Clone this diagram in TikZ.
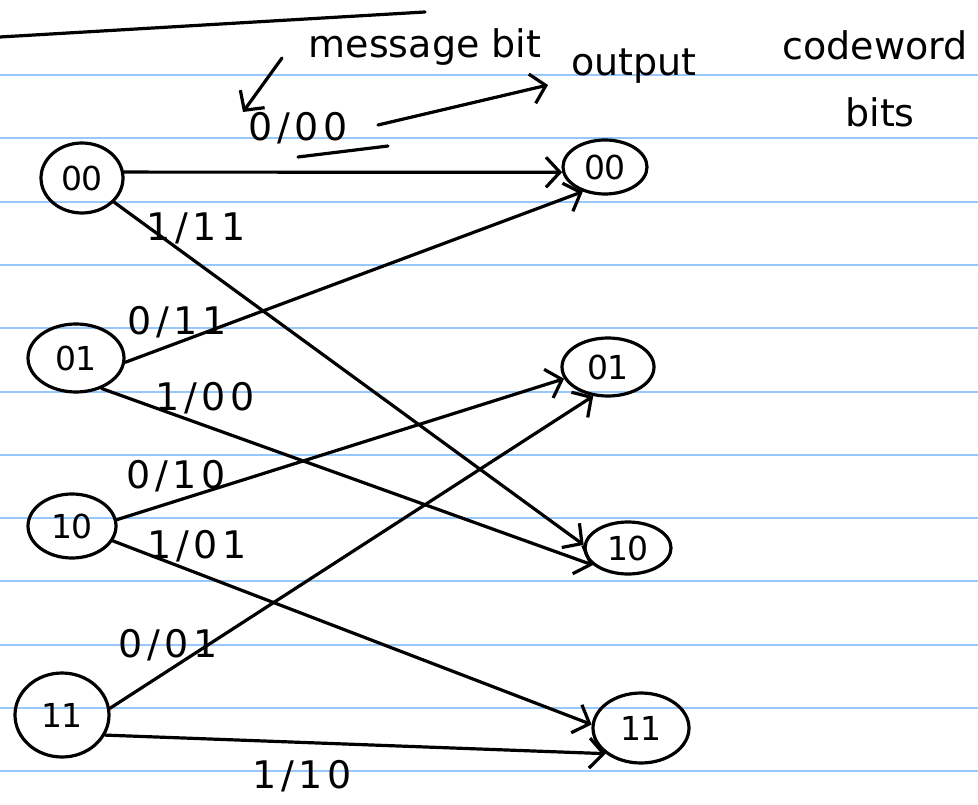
\documentclass[tikz,border=0pt]{standalone}
\usepackage{fontspec}
\setmainfont{DejaVu Sans}
\usetikzlibrary{shapes.geometric,arrows.meta}
\definecolor{rulecol}{RGB}{150,200,250}
\begin{document}
\begin{tikzpicture}[x=1pt,y=-1pt,
  pen/.style={line width=3.2pt, line cap=round, line join=round},
  st/.style={pen, draw, ellipse, inner sep=0pt, font=\fontsize{33}{35}\selectfont},
  tr/.style={pen, -{Straight Barb[length=14pt,width=30pt,line width=3.2pt]}},
  lab/.style={font=\fontsize{38}{40}\selectfont\addfontfeature{LetterSpace=12}, inner sep=0pt},
  note/.style={font=\fontsize{38}{40}\selectfont, inner sep=0pt, anchor=base},
  rulel/.style={line width=2pt, draw=rulecol}]
\useasboundingbox (0,0) rectangle (978,805);
\fill[white] (0,0) rectangle (978,805);
% ruled paper
\foreach \k in {0,...,11}
  \draw[rulel] (0,{75+63.3*\k}) -- (978,{75+63.3*\k});
% top fragment line
\coordinate (tl1) at (0,37);
\coordinate (tl2) at (425,12);
\draw[pen] (tl1) -- (tl2);
% states, left column
\node[st, minimum width=82, minimum height=70] (L00) at (82,178) {00};
\node[st, minimum width=96, minimum height=68] (L01) at (76,358) {01};
\node[st, minimum width=88, minimum height=64] (L10) at (72,526) {10};
\node[st, minimum width=94, minimum height=84] (L11) at (62,715) {11};
% states, right column
\node[st, minimum width=84, minimum height=54] (R00) at (605,167) {00};
\node[st, minimum width=92, minimum height=58] (R01) at (608,367) {01};
\node[st, minimum width=86, minimum height=52] (R10) at (628,548) {10};
\node[st, minimum width=96, minimum height=70] (R11) at (641,728) {11};
% transitions
\draw[tr] (L00.8) -- (R00.187);
\draw[tr] (L00.-37) -- (R10.176);
\draw[tr] (L01.-5) -- (R00.228);
\draw[tr] (L01.-50) -- (R10.206);
\draw[tr] (L10.8) -- (R01.195);
\draw[tr] (L10.-20) -- (R11.176);
\draw[tr] (L11.8) -- (R01.243);
\draw[tr] (L11.-25) -- (R11.216);
% transition labels
\node[lab] (t1) at (298,128) {0/00};
\node[lab] (t2) at (196,228) {1/11};
\node[lab] (t3) at (177,322) {0/11};
\node[lab] (t4) at (205,398) {1/00};
\node[lab] (t5) at (176,476) {0/10};
\node[lab] (t6) at (197,546) {1/01};
\node[lab] (t7) at (168,645) {0/01};
\node[lab] (t8) at (302,776) {1/10};
% underline stroke under 0/00
\coordinate (u1) at (298,157);
\coordinate (u2) at (388,146);
\draw[pen] (u1) -- (u2);
% annotations
\node[note] (msg) at (425,58) {message bit};
\node[note] (outp) at (634,76) {output};
\node[note] (cw) at (875,60) {codeword};
\node[note] (bits) at (880,127) {bits};
\coordinate (ma) at (282,58);
\coordinate (mb) at (243,112);
\draw[tr] (ma) -- (mb);
\coordinate (oa) at (378,125);
\coordinate (ob) at (548,85);
\draw[tr] (oa) -- (ob);
\end{tikzpicture}
\end{document}
